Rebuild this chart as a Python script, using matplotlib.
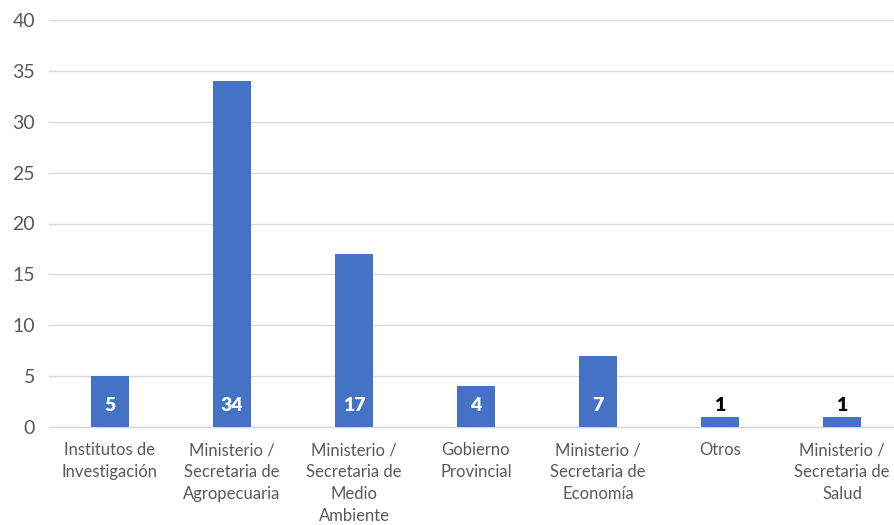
import matplotlib
matplotlib.use("Agg")
import matplotlib.pyplot as plt

categories = [
    "Institutos de\nInvestigación",
    "Ministerio /\nSecretaria de\nAgropecuaria",
    "Ministerio /\nSecretaria de\nMedio\nAmbiente",
    "Gobierno\nProvincial",
    "Ministerio /\nSecretaria de\nEconomía",
    "Otros",
    "Ministerio /\nSecretaria de\nSalud",
]
values = [5, 34, 17, 4, 7, 1, 1]
yticks = [0, 5, 10, 15, 20, 25, 30, 35, 40]

plt.rcParams['font.family'] = ['Lato', 'DejaVu Sans']

fig = plt.figure(figsize=(8.95, 5.25), dpi=100)
ax = fig.add_axes([49/895, 98/525, (903-49)/895, (427-20)/525])

x = list(range(len(categories)))
ax.bar(x, values, width=0.31, color="#4472C4", zorder=3)

for xi, v in zip(x, values):
    color = "white" if v >= 3 else "black"
    ax.text(xi, 2.15, str(v), ha="center", va="center", color=color,
            fontsize=14, fontweight="heavy", zorder=4)

ax.set_xlim(-0.5, len(categories) - 0.5)
ax.set_ylim(0, 40)
ax.set_yticks(yticks)
ax.set_yticklabels([str(t) for t in yticks])
ax.set_xticks(x)
ax.set_xticklabels(categories, linespacing=1.45)
ax.tick_params(axis="both", length=0, colors="#595959")
ax.tick_params(axis="x", pad=11, labelsize=12)
ax.tick_params(axis="y", pad=10, labelsize=14)
for lab in ax.get_xticklabels():
    lab.set_verticalalignment("top")

ax.grid(axis="y", color="#D9D9D9", linewidth=1, zorder=0)
for s in ["top", "right", "left"]:
    ax.spines[s].set_visible(False)
ax.spines["bottom"].set_color("#D9D9D9")
ax.spines["bottom"].set_linewidth(1)

fig.savefig("out.png", dpi=100, facecolor="white")
